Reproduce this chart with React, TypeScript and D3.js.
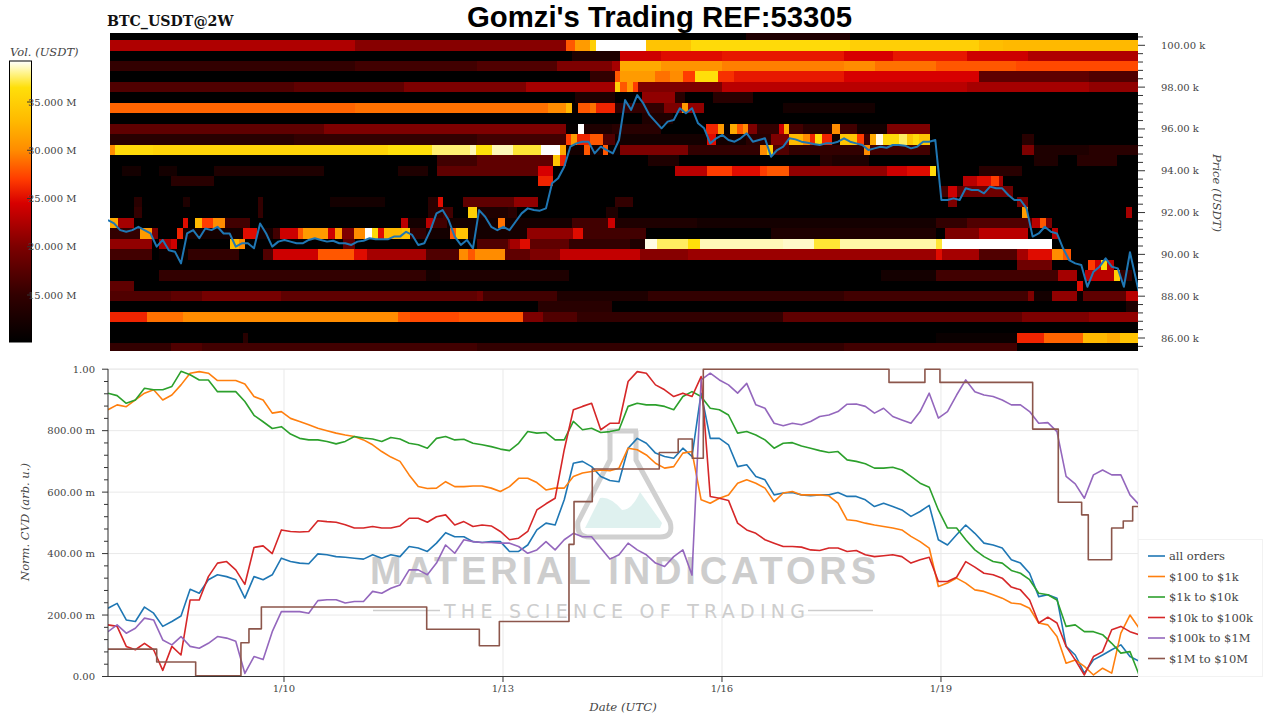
import React from "react";
import * as d3 from "d3";

// ---------- heatmap: price bins (k USDT) and runs of [2h-bin start, volume in M USDT]
const priceLevels = [100.5,100,99.5,99,98.5,98,97.5,97,96.5,96,95.5,95,94.5,94,93.5,93,92.5,92,91.5,91,90.5,90,89.5,89,88.5,88,87.5,87,86.5,86,85.5];
const r1005 = [[0,10],[104,13],[121,10]];
const r1000 = [[0,22.5],[40,20.5],[74.5,28],[76,31],[78.4,35],[79.4,39.3],[87.6,34],[95,36],[121,35],[142,33.5],[146,33]];
const r995 = [[0,10],[75.5,13],[83.3,24],[90,25],[100,25.5],[120,24.5],[128,25.5],[140,24],[150,22.5]];
const r990 = [[0,15],[40,16],[60,17],[73,20],[82,22],[83.3,32],[90,30.5],[100,29.5],[120,30],[125,29],[135,28],[148,27.5]];
const r985 = [[0,10],[78.4,15],[82.5,28],[83.3,31],[89,29],[91.5,30],[93.6,27],[95.6,36.5],[99.3,26.5],[102,25.5],[120,24.5],[142,18],[160,17]];
const r980 = [[0,17],[30,18],[48,20],[68,22],[82.5,35],[83.3,28],[84.5,31],[85.5,27],[86.3,20],[100,23],[140,22],[160,21]];
const r975 = [[0,10],[76,13],[82.5,10],[87,21],[92.3,14],[94,10],[98.5,14],[105,10]];
const r970 = [[0,28.5],[40,29],[71.5,30],[74.5,33],[75.5,11],[76.5,28],[78.4,29],[79.5,26],[82.5,15],[90.5,20],[93.4,31],[94.4,21],[97,10],[110,12],[125,10]];
const r965 = [[0,10],[87,13],[92,10]];
const r960 = [[0,18],[35,20],[74.5,10.5],[76.5,39.3],[77.5,13],[82,14],[90,10],[97.4,26],[99.3,31],[100.3,11],[101.3,32],[102.5,28],[103.4,30],[104.2,20],[105.8,15],[109.3,24],[110.2,32],[111,16],[113.2,14],[118,30],[119.3,16],[122,12],[127,20],[134,10]];
const r955 = [[0,14],[30,15],[60,16],[74.5,27],[75.4,31],[76.4,26],[78.4,28],[80.5,17],[82.5,12],[97.5,25],[99,12],[104,14],[108,20],[111,33],[113.2,30],[114.4,26],[115.2,36],[116.3,26],[118,12],[119.3,34],[122,27],[123.2,16],[124.2,32],[125.2,39],[126.3,36],[129,37.5],[130.2,34],[131.2,36],[132.2,34],[134,10],[149,14],[151,10]];
const r950 = [[0,30],[0.8,36],[7,35.5],[45.5,36.5],[52.6,37.7],[58.8,38.5],[59.8,36.5],[62.5,38.5],[65.8,37],[70.4,39.3],[73.5,32],[74.5,12],[77.5,28],[78.4,12],[80.5,28],[81.4,11],[83.3,20],[94.5,15],[106.2,30],[107.4,35],[108.3,17],[111,15],[123.2,30],[124.2,16],[134,10],[149,20],[151,13],[160,14]];
const r945 = [[0,10],[53.4,16],[60,18],[72.4,34],[73.5,26],[74.5,10],[88,13],[93,10],[116,14],[118,13],[124,10],[151,13],[155,10],[158,14],[164.5,10]];
const r940 = [[0,10],[2,12],[5,10],[8,12],[11,10],[17,13],[35,10],[47,13],[52,10],[53.4,18],[70,24.5],[72.4,10],[92.3,23],[97.5,27],[101.6,25],[106.2,27],[107.4,28],[111,21],[127,24],[130.2,25],[134,36],[135,10],[142,14],[149,10]];
const r935 = [[0,10],[10,14],[17,10],[70,26],[72.4,10],[139.4,23],[141.7,25],[144,27],[145.3,22],[146,10]];
const r930 = [[0,10],[135.6,16],[137,24],[138.4,18],[139.4,19],[147.5,10]];
const r925 = [[0,10],[4,14],[5.3,10],[12,13],[13,10],[24.2,15],[25,10],[36,12],[45,10],[52,14],[53.6,25],[54.4,10],[57.7,18],[66,21],[70,10],[82.5,15],[85.5,10],[137,20],[138.5,10],[148.2,20],[150,10]];
const r920 = [[0,10],[4,15],[5.3,10],[24.2,15],[25,10],[52,14],[54.4,16],[56,10],[58.5,35],[60,13],[65,14],[66.5,10],[81,13],[83,10],[149,31],[150,10],[166,22],[167,10]];
const r915 = [[0,32],[1.3,22],[4,10],[12,25],[12.8,10],[13.9,33],[15,27],[16.9,30],[18.8,16],[22.9,10],[47.6,23],[48.7,12],[51.7,23],[52.8,16],[55,12],[63.4,29],[64.5,12],[75.5,16],[81.4,24],[82.5,13],[96,12],[135,15],[140,17],[150.7,23],[152,28],[153,20],[154,10]];
const r910 = [[0,15],[4.9,31],[6.8,20],[7.9,10],[10.9,26],[12,12],[21.8,25],[24,12],[26.7,16],[27.8,24],[30.8,28],[31.6,31],[35.7,24],[36.8,31],[37.9,20],[39.8,30],[41.7,39.3],[42.8,36],[43.8,25],[44.7,33],[47.7,34],[49,15],[51.7,12],[55.5,28],[56.6,34],[58.5,12],[68.2,21],[75.6,25],[77.3,16],[87.6,10],[108,13],[135,10],[136.5,20],[142,23],[150,10],[154,23],[155,10]];
const r905 = [[0,21],[6.8,10],[8,22],[10,24],[11,10],[19.6,33],[21,30],[22,10],[38,18],[40,10],[60,17],[65,20],[65.4,22],[67,25],[68.6,18],[75,15],[85,13],[87.4,39],[89.4,37.5],[94.4,36.5],[96.4,38.5],[110,38.7],[115,37],[119.3,38.3],[135,37],[136,39.3],[154,10]];
const r900 = [[0,16],[6.8,10],[8,11],[12.8,15],[20,15],[21,10],[25,17],[26.7,24],[34,28],[39.8,25],[42,22],[51.7,17],[57,30],[58.5,28],[59.6,30],[64.5,18],[68.6,20],[73.5,23.5],[86.6,20.5],[94.4,21.5],[135,25],[136,22],[142,17],[148.2,22],[150,25],[154,30],[155.7,28],[157,10]];
const r895 = [[0,10],[148.2,19],[154,10],[159.8,27],[161,24],[162,36],[163,23],[164,10]];
const r890 = [[0,10],[8,15],[51.7,12],[54,13],[75,10],[126,12],[135,16],[155,22],[158,10],[159.3,23],[164,35],[165,15],[167,10]];
const r885 = [[0,18],[3.9,10],[158,25],[159,10]];
const r880 = [[0,17],[10,18],[15,19.5],[28,18],[60,19],[61,16],[73,13],[88,15],[120,16],[150,20],[151,12],[154,21],[158,11],[159,18],[166,23]];
const r875 = [[0,10],[70,14],[82,10],[166,13]];
const r870 = [[0,26],[6,29],[12,30],[47,28],[49,27.5],[57,28],[67.5,20],[70.8,17],[76.3,15],[110,18],[149,20],[160,21]];
const r865 = [[0,10]];
const r860 = [[0,10],[21.8,14],[22.6,10],[135,11],[148.2,26],[152.6,28.5],[159,33],[163,32],[165,34]];
const r855 = [[0,15],[10,17],[15,16],[60,15],[120,16],[148.2,10]];
const heatRows = [r1005,r1000,r995,r990,r985,r980,r975,r970,r965,r960,r955,r950,r945,r940,r935,r930,r925,r920,r915,r910,r905,r900,r895,r890,r885,r880,r875,r870,r865,r860,r855];

// colour scale: volume (M USDT) → colour
const volStops = [10,15,20,24.5,27,30,33,36.5,38,39.3];
const volColors = ["#000000","#320000","#7d0000","#d70000","#ff3c00","#ff8c00","#ffb900","#ffdf0a","#fff48c","#ffffff"];
const volTicks = [15,20,25,30,35];

// price line (k USDT), one value per 2 hours
const priceSeries = [91.64,91.48,91.16,91.08,91.16,91.32,91.16,91.0,90.37,90.69,90.2,90.13,89.57,91.0,91.16,90.77,91.24,91.16,91.32,91.0,91.0,90.37,90.53,90.53,90.29,91.48,91.0,90.37,90.61,90.69,90.61,90.53,90.53,90.69,90.77,90.69,90.61,90.65,90.53,90.53,90.45,90.61,90.65,90.77,90.72,90.72,90.72,90.85,90.85,91.08,90.93,90.45,90.53,
91.16,91.96,92.12,91.64,90.85,90.45,90.69,90.29,92.12,91.8,91.32,91.16,91.32,91.16,91.56,91.96,92.2,92.12,92.09,92.2,93.4,93.64,94.19,95.15,95.31,95.39,95.39,94.83,95.15,94.99,94.83,95.47,97.38,96.91,97.62,97.22,96.67,96.35,96.03,96.35,96.43,96.99,96.75,96.99,96.27,96.03,95.31,95.55,95.71,95.47,95.39,95.55,95.79,95.39,95.47,95.55,94.67,94.99,95.15,95.55,95.5,95.39,95.34,95.28,95.23,95.31,95.31,95.39,95.55,95.39,95.31,
95.23,94.99,95.07,95.15,95.1,95.23,95.23,95.2,95.07,95.15,95.39,95.39,95.47,92.6,92.6,92.68,92.6,93.16,93.08,93.08,92.92,93.24,93.16,93.16,92.84,92.6,92.6,92.2,90.85,91.0,91.32,91.08,91.0,90.29,89.73,89.57,89.49,88.45,89.17,89.41,89.81,89.41,89.33,88.45,90.1,88.8,87.5];
const priceTicks = [86,88,90,92,94,96,98,100];
const priceMinor = [85.6,86.4,86.8,87.2,87.6,88.4,88.8,89.2,89.6,90.4,90.8,91.2,91.6,92.4,92.8,93.2,93.6,94.4,94.8,95.2,95.6,96.4,96.8,97.2,97.6,98.4,98.8,99.2,99.6,100.4];

// normalised CVD, one value per 3 hours
const allOrders = [.222,.238,.184,.179,.226,.206,.163,.179,.197,.284,.271,.315,.331,.325,.315,.255,.325,.315,.331,.385,.374,.369,.367,.399,.396,.39,.388,.385,.382,.396,.385,.396,.39,.423,.418,.407,
.434,.468,.455,.455,.439,.436,.439,.439,.407,.407,.428,.477,.499,.493,.575,.694,.70,.683,.651,.638,.634,.743,.775,.759,.727,.716,.71,.743,.716,.922,.775,.775,.754,.683,.689,.651,.64,.591,.597,.599,.591,.588,.591,.591,.599,.586,.586,
.575,.553,.564,.553,.542,.521,.537,.557,.445,.428,.461,.493,.466,.434,.428,.418,.38,.369,.336,.26,.266,.255,.098,.07,.011,.054,.07,.087,.103,.065,.05];
const orders100to1k = [.868,.884,.878,.90,.922,.933,.90,.916,.949,.987,.992,.987,.963,.963,.963,.952,.911,.90,.857,.862,.84,.83,.819,.808,.8,.792,.786,.781,.77,.754,.732,.714,.70,.656,.618,.612,
.613,.634,.618,.618,.62,.62,.613,.602,.618,.645,.645,.631,.607,.613,.613,.651,.662,.667,.672,.67,.678,.743,.738,.721,.694,.678,.683,.727,.732,.575,.564,.58,.591,.629,.64,.629,.613,.569,.597,.602,.591,.591,.591,.588,.564,.51,.507,
.499,.493,.488,.483,.477,.456,.439,.418,.293,.304,.32,.304,.282,.277,.266,.255,.239,.236,.222,.174,.168,.13,.043,.054,.033,.005,.027,.011,.141,.20,.157];
const orders1kto10k = [.922,.914,.889,.90,.938,.933,.933,.944,.993,.982,.965,.965,.927,.927,.927,.895,.85,.829,.807,.813,.789,.775,.77,.77,.765,.757,.765,.781,.776,.773,.765,.778,.773,.759,.754,.743,
.775,.781,.77,.772,.759,.754,.748,.74,.735,.759,.797,.792,.794,.77,.77,.83,.803,.808,.794,.797,.803,.879,.889,.884,.884,.879,.868,.911,.927,.911,.873,.868,.851,.792,.797,.786,.77,.743,.759,.761,.75,.743,.735,.729,.732,.705,.70,
.692,.678,.678,.681,.672,.651,.629,.616,.542,.483,.483,.445,.412,.39,.374,.369,.345,.336,.315,.271,.266,.249,.163,.168,.146,.146,.136,.108,.076,.081,.005];
const orders10kto100k = [.168,.163,.098,.087,.108,.087,.02,.098,.07,.249,.249,.325,.369,.374,.347,.30,.42,.425,.40,.477,.472,.47,.472,.507,.504,.502,.494,.483,.483,.488,.483,.483,.49,.515,.515,.502,
.52,.526,.493,.504,.488,.493,.49,.472,.445,.45,.472,.542,.562,.58,.738,.868,.879,.889,.803,.824,.824,.96,.992,.987,.949,.933,.911,.922,.911,.976,.586,.58,.573,.499,.477,.466,.445,.434,.423,.423,.421,.412,.41,.418,.418,.407,.41,
.396,.39,.393,.396,.39,.369,.38,.388,.309,.309,.323,.374,.356,.336,.331,.32,.291,.282,.249,.174,.193,.174,.098,.054,.005,.065,.081,.152,.163,.146,.136];
const orders100kto1M = [.146,.168,.141,.157,.19,.184,.119,.103,.13,.098,.092,.108,.13,.125,.115,.01,.065,.055,.146,.211,.211,.211,.206,.247,.25,.25,.239,.244,.244,.277,.271,.287,.298,.347,.347,.331,
.369,.428,.401,.445,.439,.436,.436,.434,.434,.423,.401,.412,.439,.412,.445,.466,.455,.455,.418,.382,.396,.434,.412,.396,.369,.358,.39,.412,.33,.965,.987,.965,.949,.922,.954,.884,.873,.824,.816,.824,.819,.83,.846,.851,.862,.886,.887,
.879,.857,.873,.846,.835,.824,.862,.922,.841,.862,.916,.965,.927,.916,.911,.90,.884,.884,.862,.824,.826,.797,.651,.627,.58,.656,.672,.656,.656,.591,.559];
// $1M to $10M changes in steps: day of January, and the level held from that day
const stepDays = [7.589,8.256,8.79,9.41,9.52,9.69,11.955,12.676,12.95,13.904,13.973,14.223,15.141,15.40,15.593,15.744,18.288,18.78,18.986,20.256,20.607,20.927,21.018,21.338,21.497,21.626,21.70];
const stepLevels = [.089,.047,.002,.11,.155,.226,.154,.10,.179,.43,.569,.675,.729,.773,.71,1.0,.957,1.0,.957,.805,.567,.526,.38,.483,.506,.553,.553];

const legendNames = ["all orders","$100 to $1k","$1k to $10k","$10k to $100k","$100k to $1M","$1M to $10M"];
const lineColors = ["#1f77b4","#ff7f0e","#2ca02c","#d62728","#9467bd","#8c564b"];
const cvdTicks = [0,.2,.4,.6,.8,1];
const cvdMinor = [.04,.08,.12,.16,.24,.28,.32,.36,.44,.48,.52,.56,.64,.68,.72,.76,.84,.88,.92,.96];
const dateTicks = [10,13,16,19];

const START_DAY = 7.589;
const END_DAY = 21.699;
const day = (d: number) => new Date(Date.UTC(2025, 0, 1) + (d - 1) * 864e5);

const SERIF = "'DejaVu Serif', serif";
const TXT = "#444";

export default function App() {
  const x = d3.scaleUtc().domain([day(START_DAY), day(END_DAY)]).range([108, 1138]);
  const bin = d3.scaleLinear().domain([0, 168]).range([110, 1138]);
  const yP = d3.scaleLinear().domain([86, 100]).range([338, 45.3]);
  const yC = d3.scaleLinear().domain([0, 1]).range([676.5, 369.2]);
  const yBar = d3.scaleLinear().domain([15, 35]).range([295, 102]);
  const color = d3.scaleLinear<string>().domain(volStops).range(volColors).interpolate(d3.interpolateRgb).clamp(true);

  const priceLine = d3.line<number>()
    .x((_, i) => x(day(START_DAY + (i * 2) / 24)))
    .y((v) => yP(v))(priceSeries) as string;
  const cvdLine = d3.line<number>()
    .x((_, i) => x(day(START_DAY + (i * 3) / 24)))
    .y((v) => yC(v));
  const stepLine = d3.line<number>()
    .x((_, i) => x(day(stepDays[i])))
    .y((v) => yC(v))
    .curve(d3.curveStepAfter)(stepLevels) as string;
  const cvdPaths = [allOrders, orders100to1k, orders1kto10k, orders10kto100k, orders100kto1M].map((s) => cvdLine(s) as string);
  cvdPaths.push(stepLine);

  const fmtDate = d3.utcFormat("%-m/%-d");
  const fmtCvd = (v: number) => (v === 0 ? "0.00" : v === 1 ? "1.00" : `${d3.format(".2f")(v * 1000)} m`);

  return (
    <svg width={1280} height={720} viewBox="0 0 1280 720" style={{ position: "absolute", left: 0, top: 0, background: "#fff" }}>
      <defs>
        <clipPath id="heat"><rect x={108} y={33} width={1030} height={318} /></clipPath>
        <clipPath id="cvd"><rect x={108} y={367} width={1030} height={311} /></clipPath>
        <linearGradient id="volGrad" x1="0" y1="1" x2="0" y2="0">
          {volStops.map((v, i) => (
            <stop key={i} offset={(v - 10.1) / (39.25 - 10.1)} stopColor={volColors[i]} />
          ))}
        </linearGradient>
      </defs>

      {/* titles */}
      <text x={107} y={26} fontFamily={SERIF} fontWeight="bold" fontSize={14.2} fill="#111">BTC_USDT@2W</text>
      <text x={467} y={26.5} fontFamily="'Liberation Sans', sans-serif" fontWeight="bold" fontSize={29} fill="#000" textLength={385} lengthAdjust="spacingAndGlyphs">Gomzi's Trading REF:53305</text>

      {/* heatmap */}
      <rect x={110} y={33} width={1028} height={318} fill="#000" />
      <g clipPath="url(#heat)" shapeRendering="crispEdges">
        {heatRows.map((runs, r) =>
          runs.map(([start, v], k) => {
            const end = k + 1 < runs.length ? runs[k + 1][0] : 168;
            return (
              <rect key={`${r}-${k}`} x={bin(start)} width={bin(end) - bin(start)}
                y={yP(priceLevels[r] + 0.25)} height={yP(priceLevels[r] - 0.25) - yP(priceLevels[r] + 0.25)}
                fill={color(v)} />
            );
          })
        )}
      </g>
      <path d={priceLine} fill="none" stroke="#1f77b4" strokeWidth={2} clipPath="url(#heat)" strokeLinejoin="round" />

      {/* price axis */}
      {priceMinor.map((p) => <line key={p} x1={1138} x2={1143} y1={yP(p)} y2={yP(p)} stroke="#333" />)}
      {priceTicks.map((p) => (
        <g key={p}>
          <line x1={1138} x2={1145} y1={yP(p)} y2={yP(p)} stroke="#333" />
          <text x={1161} y={yP(p) + 3.5} fontFamily={SERIF} fontSize={10} fill={TXT}>{d3.format(".2f")(p)} k</text>
        </g>
      ))}
      <text transform="translate(1213,193) rotate(90)" textAnchor="middle" fontFamily={SERIF} fontStyle="italic" fontSize={11.6} fill={TXT}>Price (USDT)</text>

      {/* colour bar */}
      <text x={10} y={56} fontFamily={SERIF} fontStyle="italic" fontSize={11.5} fill={TXT}>Vol. (USDT)</text>
      <rect x={9.5} y={61} width={22} height={281} fill="url(#volGrad)" stroke="#000" strokeWidth={1} />
      {volTicks.map((v) => (
        <g key={v}>
          <line x1={27} x2={31.5} y1={yBar(v)} y2={yBar(v)} stroke="#333" />
          <text x={28} y={yBar(v) + 3.5} fontFamily={SERIF} fontSize={10} fill={TXT}>{d3.format(".3f")(v)} M</text>
        </g>
      ))}

      {/* CVD grid */}
      <rect x={108} y={369} width={1030} height={307.5} fill="none" stroke="#eee" />
      {cvdTicks.slice(1).map((t) => <line key={t} x1={108} x2={1138} y1={yC(t)} y2={yC(t)} stroke="#e9e9e9" />)}
      {dateTicks.map((d) => <line key={d} x1={x(day(d))} x2={x(day(d))} y1={369} y2={676} stroke="#e9e9e9" />)}

      {/* watermark */}
      <g>
        <path d="M585 528 L600 498 Q610 496 622 510 Q632 510 640 492 L662 523 L660 528 Z" fill="#dff1ef" />
        <path d="M607 431 H638 M610 431 V460 L578 522 Q576 537 590 537 H660 Q674 537 670 522 L636 460 V431" fill="none" stroke="#d0d0d0" strokeWidth={5} />
        <text x={370} y={584} fontFamily="'Liberation Sans', sans-serif" fontWeight="bold" fontSize={38} fill="#cdcdcd" textLength={506} lengthAdjust="spacing">MATERIAL INDICATORS</text>
        <text x={444} y={617.5} fontFamily="'DejaVu Sans', sans-serif" fontSize={19} fill="#cdcdcd" textLength={361} lengthAdjust="spacing">THE SCIENCE OF TRADING</text>
        <line x1={373} x2={440} y1={610.5} y2={610.5} stroke="#cdcdcd" strokeWidth={1.5} />
        <line x1={808} x2={873} y1={610.5} y2={610.5} stroke="#cdcdcd" strokeWidth={1.5} />
      </g>

      {/* CVD lines */}
      <g clipPath="url(#cvd)" fill="none" strokeWidth={1.6} strokeLinejoin="round">
        {cvdPaths.map((d, i) => <path key={i} d={d} stroke={lineColors[i]} />)}
      </g>

      {/* CVD axes */}
      <line x1={108} x2={108} y1={369} y2={676.5} stroke="#333" />
      <line x1={108} x2={1138} y1={676.5} y2={676.5} stroke="#333" />
      {cvdMinor.map((t) => <line key={t} x1={104} x2={108} y1={yC(t)} y2={yC(t)} stroke="#333" />)}
      {cvdTicks.map((t) => (
        <g key={t}>
          <line x1={102} x2={108} y1={yC(t)} y2={yC(t)} stroke="#333" />
          <text x={95} y={yC(t) + 3.5} textAnchor="end" fontFamily={SERIF} fontSize={10} fill={TXT}>{fmtCvd(t)}</text>
        </g>
      ))}
      {dateTicks.map((d) => (
        <g key={d}>
          <line x1={x(day(d))} x2={x(day(d))} y1={676.5} y2={682} stroke="#333" />
          <text x={x(day(d))} y={692} textAnchor="middle" fontFamily={SERIF} fontSize={10} fill={TXT}>{fmtDate(day(d))}</text>
        </g>
      ))}
      <text x={623} y={711} textAnchor="middle" fontFamily={SERIF} fontStyle="italic" fontSize={11.7} fill={TXT}>Date (UTC)</text>
      <text transform="translate(29,522) rotate(-90)" textAnchor="middle" fontFamily={SERIF} fontStyle="italic" fontSize={11.5} fill={TXT}>Norm. CVD (arb. u.)</text>

      {/* legend */}
      <rect x={1138.5} y={539.5} width={124} height={137} fill="#fff" stroke="#f2f2f2" />
      {legendNames.map((n, i) => (
        <g key={n}>
          <line x1={1148} x2={1165} y1={556 + i * 20.5} y2={556 + i * 20.5} stroke={lineColors[i]} strokeWidth={1.6} />
          <text x={1169} y={560 + i * 20.5} fontFamily={SERIF} fontSize={11.5} fill={TXT}>{n}</text>
        </g>
      ))}
    </svg>
  );
}
